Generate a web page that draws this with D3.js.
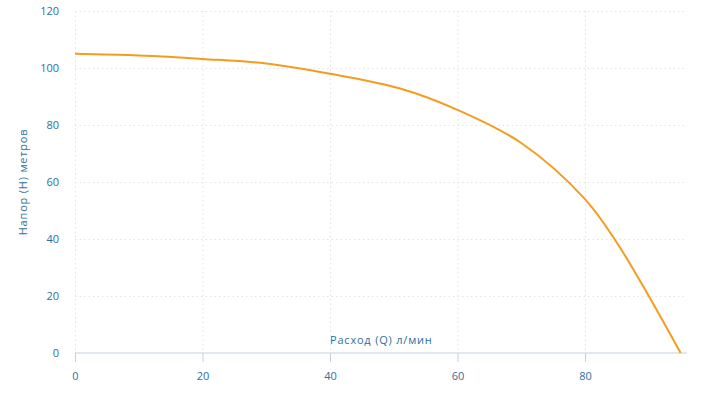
<!DOCTYPE html>
<html lang="ru">
<head>
    <meta charset="UTF-8" />
    <title>Напор / Расход</title>
    <script src="https://d3js.org/d3.v7.min.js"></script>
    <style>
        body { margin: 0; background: #fff; }
        text { font-family: "Open Sans", sans-serif; fill: #2f6e9e; }
        .grid line { stroke: #dde3ea; stroke-dasharray: 1.5 3; }
        .grid path { display: none; }
        .title { font-size: 11px; letter-spacing: 0.8px; }
    </style>
</head>
<body>
    <script>
        // данные кривой насоса
        const flow = [0, 10, 20, 30, 40, 51, 60, 70, 80, 85, 90, 95];
        const head = [105, 104.4, 103.2, 101.6, 98, 92.8, 85.3, 73.7, 54, 38.7, 20, 0];
        const xTicks = [0, 20, 40, 60, 80];
        const yTicks = [0, 20, 40, 60, 80, 100, 120];

        const width = 704, height = 393;
        const margin = { top: 11, right: 17, bottom: 40, left: 75 };

        const svg = d3.select('body').append('svg').attr('width', width).attr('height', height);

        const x = d3.scaleLinear().domain([0, 96]).range([margin.left, width - margin.right]);
        const y = d3.scaleLinear().domain([0, 120]).range([height - margin.bottom, margin.top]);

        // сетка
        svg.append('g').attr('class', 'grid')
            .attr('transform', `translate(0,${margin.top})`)
            .call(d3.axisBottom(x).tickValues(xTicks).tickSize(y(0) - margin.top).tickFormat(''));
        svg.append('g').attr('class', 'grid')
            .attr('transform', `translate(${margin.left},0)`)
            .call(d3.axisRight(y).tickValues(yTicks.slice(1)).tickSize(x.range()[1] - margin.left).tickFormat(''));

        // ось X
        const xAxis = svg.append('g')
            .attr('transform', `translate(0,${y(0)})`)
            .call(d3.axisBottom(x).tickValues(xTicks).tickSize(9).tickPadding(10));
        xAxis.select('.domain').attr('stroke', '#c5d0de').attr('d', `M${margin.left},0H${x.range()[1]}`);
        xAxis.selectAll('.tick line').attr('stroke', '#c5d0de');
        xAxis.selectAll('text').style('font-size', '11px');

        // ось Y
        const yAxis = svg.append('g')
            .attr('transform', `translate(${margin.left},0)`)
            .call(d3.axisLeft(y).tickValues(yTicks).tickSize(0).tickPadding(16));
        yAxis.select('.domain').remove();
        yAxis.selectAll('text').style('font-size', '11px');

        // подписи осей
        svg.append('text').attr('class', 'title')
            .attr('x', x(40)).attr('y', y(0) - 9)
            .text('Расход (Q) л/мин');
        svg.append('text').attr('class', 'title')
            .attr('transform', `translate(27,${y(60)}) rotate(-90)`)
            .attr('text-anchor', 'middle')
            .text('Напор (H) метров');

        // кривая
        const line = d3.line()
            .x((d, i) => x(flow[i]))
            .y((d) => y(d))
            .curve(d3.curveCatmullRom.alpha(0.5));
        svg.append('path')
            .datum(head)
            .attr('fill', 'none')
            .attr('stroke', '#f39c1f')
            .attr('stroke-width', 2)
            .attr('d', line);
    </script>
</body>
</html>
